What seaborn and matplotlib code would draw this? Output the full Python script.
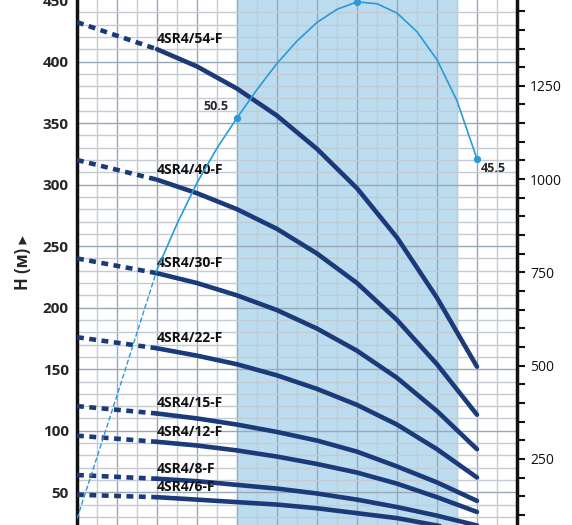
import matplotlib
matplotlib.use("Agg")
import matplotlib.pyplot as plt
import seaborn as sns
import numpy as np
import pandas as pd

sns.set_theme(style="white")
plt.rcParams['font.family'] = ['Open Sans', 'DejaVu Sans']

q = [0, 4, 6, 8, 10, 12, 14, 16, 18, 20]
models = ["4SR4/54-F", "4SR4/40-F", "4SR4/30-F", "4SR4/22-F", "4SR4/15-F", "4SR4/12-F", "4SR4/8-F", "4SR4/6-F"]
heads = {
    "4SR4/54-F": [432, 410, 396, 378, 356, 329, 297, 257, 208, 152],
    "4SR4/40-F": [320, 304, 293, 280, 264, 244, 220, 190, 154, 113],
    "4SR4/30-F": [240, 228, 220, 210, 198, 183, 165, 143, 116, 85],
    "4SR4/22-F": [176, 167, 161, 154, 145, 134, 121, 105, 85, 62],
    "4SR4/15-F": [120, 114, 110, 105, 99, 92, 83, 71, 58, 43],
    "4SR4/12-F": [96, 91, 88, 84, 79, 73, 66, 57, 46, 34],
    "4SR4/8-F": [64, 61, 59, 56, 53, 49, 44, 38, 31, 23],
    "4SR4/6-F": [48, 46, 44, 42, 40, 37, 33, 29, 23, 17],
}
eff_q_dash = [0, 2, 4]
eff_v_dash = [90, 420, 757]
eff_q = [4, 5, 6, 7, 8, 9, 10, 11, 12, 13, 14, 15, 16, 17, 18, 19, 20]
eff_v = [757, 880, 990, 1083, 1164, 1240, 1310, 1370, 1420, 1455, 1475, 1470, 1445, 1395, 1320, 1210, 1054]
eff_marks_q = [8, 14, 20]
eff_marks_v = [1164, 1475, 1054]
eff_labels = ["50.5", "", "45.5"]

navy = "#1b3a7a"
light = "#2a9ad8"

fig = plt.figure(figsize=(5.72, 5.25), dpi=100)
ax = fig.add_axes([77/572, 0, 440/572, 1])
ax.set_xlim(0, 22)
ax.set_ylim(23.4, 449.5)
ax.axvspan(8, 19, color="#bcdcef", zorder=0)
for v in np.arange(0, 23, 1):
    ax.axvline(v, color="#9aa8b4" if v % 2 == 0 else "#c4cbd2", lw=1.0, zorder=1)
for h in np.arange(30, 450, 10):
    ax.axhline(h, color="#9aa8b4" if h % 50 == 0 else "#c4cbd2", lw=1.0, zorder=1)

for m in models:
    df = pd.DataFrame({"q": q, "h": heads[m]})
    sns.lineplot(data=df[df.q >= 4], x="q", y="h", color=navy, lw=3.3, ax=ax, zorder=4)
    ax.lines[-1].set_solid_joinstyle("round")
    sns.lineplot(data=df[df.q <= 4], x="q", y="h", color=navy, lw=3.3, ax=ax, zorder=4)
    ax.lines[-1].set_linestyle((0, (1.5, 1.2)))
    ax.text(4, heads[m][1] + 5, m, fontsize=10, fontweight="bold", color="#111", zorder=6)

ax.set_yticks(range(50, 451, 50))
ax.set_xticks([])
ax.tick_params(axis="y", labelsize=11, length=0, pad=6)
for t in ax.get_yticklabels():
    t.set_fontweight("bold")
ax.set_xlabel("")
ax.set_ylabel("H (м) ▸", fontsize=12, fontweight="bold", labelpad=8)
for s in ["top", "bottom", "right"]:
    ax.spines[s].set_visible(False)
ax.spines["left"].set_linewidth(2.5)
ax.spines["left"].set_color("#111")

ax2 = ax.twinx()
ax2.set_ylim(73, 1480)
ax2.plot(eff_q_dash, eff_v_dash, color=light, lw=1, ls="--", zorder=5)
ax2.plot(eff_q, eff_v, color=light, lw=1.2, zorder=5)
ax2.scatter(eff_marks_q, eff_marks_v, color=light, s=18, zorder=6)
ax2.text(7.6, 1185, eff_labels[0], fontsize=9, fontweight="bold", ha="right")
ax2.text(20.2, 1020, eff_labels[2], fontsize=9, fontweight="bold", ha="left")
ax2.set_yticks(range(100, 1451, 50))
ax2.set_yticklabels([str(v) if v % 250 == 0 else "" for v in range(100, 1451, 50)])
ax2.tick_params(axis="y", direction="out", length=6, width=1.5, labelsize=10, colors="#111")
for s in ["top", "bottom", "left"]:
    ax2.spines[s].set_visible(False)
ax2.spines["right"].set_linewidth(2.5)
ax2.spines["right"].set_color("#111")
ax2.grid(False)

fig.savefig("out.png", dpi=100)
